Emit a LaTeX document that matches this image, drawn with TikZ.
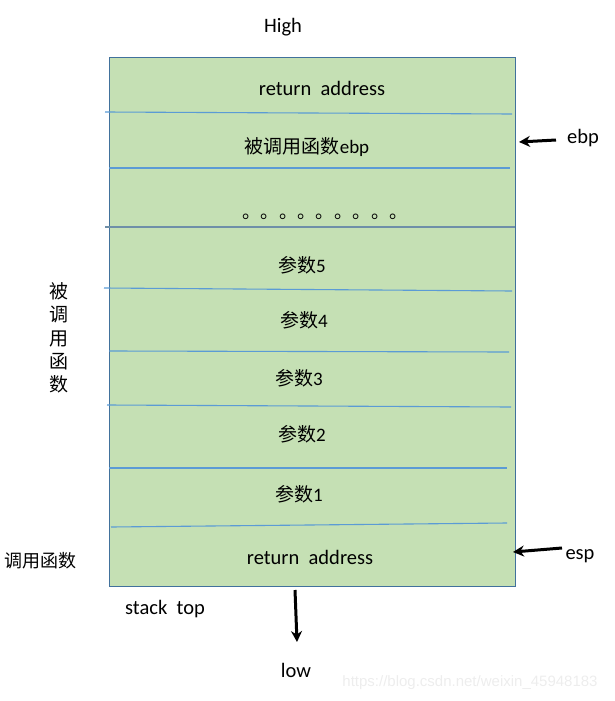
\documentclass[tikz,border=0pt]{standalone}
\usepackage{fontspec}
\setmainfont{Carlito}
\newfontfamily\cjk{Noto Sans CJK SC}
\newfontfamily\wm{Liberation Sans}
\usetikzlibrary{arrows.meta}
\definecolor{boxfill}{HTML}{C5E0B4}
\definecolor{boxedge}{HTML}{41719C}
\definecolor{sep}{HTML}{5B9BD5}
\definecolor{sepgray}{HTML}{6F8FA8}
\tikzset{
  lbl/.style={inner sep=0pt, font=\fontsize{20.5}{22}\selectfont},
  clbl/.style={inner sep=0pt, font=\fontsize{19}{21}\selectfont},
  sepline/.style={draw=sep, line width=1.1pt},
  ptr/.style={line width=3pt, -{Stealth[length=11pt,width=11pt]}},
}
\begin{document}
\begin{tikzpicture}[x=1pt,y=-1pt]
\useasboundingbox (0,0) rectangle (615,701);
% stack box
\node[draw=boxedge, fill=boxfill, line width=1pt, minimum width=406pt, minimum height=529pt, inner sep=0pt, anchor=north west] (stack) at (109,57) {};
% separators
\coordinate (s1a) at (105,112); \coordinate (s1b) at (512,114);
\coordinate (s2a) at (109,168); \coordinate (s2b) at (510,168);
\coordinate (s3a) at (105,227); \coordinate (s3b) at (515,227);
\coordinate (s4a) at (104,288); \coordinate (s4b) at (512,291);
\coordinate (s5a) at (109,351); \coordinate (s5b) at (509,352);
\coordinate (s6a) at (107,405); \coordinate (s6b) at (511,407);
\coordinate (s7a) at (109,468); \coordinate (s7b) at (507,468);
\coordinate (s8a) at (111,527); \coordinate (s8b) at (507,523);
\draw[sepline] (s1a) -- (s1b);
\draw[sepline] (s2a) -- (s2b);
\draw[draw=sepgray, line width=1.1pt] (s3a) -- (s3b);
\draw[sepline] (s4a) -- (s4b);
\draw[sepline] (s5a) -- (s5b);
\draw[sepline] (s6a) -- (s6b);
\draw[sepline] (s7a) -- (s7b);
\draw[sepline] (s8a) -- (s8b);
% cell texts
\node[lbl] (ra1) at (322,88) {return\ \ address};
\node[clbl] (callee) at (307,147) {{\cjk 被调用函数}ebp};
\node[inner sep=0pt, font=\fontsize{18.4}{20}\selectfont\cjk] (dots) at (325,217) {。。。。。。。。。};
\node[clbl] (p5) at (302,265) {{\cjk 参数}5};
\node[clbl] (p4) at (304,320) {{\cjk 参数}4};
\node[clbl] (p3) at (299,378) {{\cjk 参数}3};
\node[clbl] (p2) at (302,434) {{\cjk 参数}2};
\node[clbl] (p1) at (299,494) {{\cjk 参数}1};
\node[lbl] (ra2) at (310,557) {return\ \ address};
% outside labels
\node[lbl] (high) at (283,27) {High};
\node[lbl] (low) at (296,670) {low};
\node[lbl] (stop) at (165,609) {stack\ \ top};
\node[lbl] (ebp) at (583,138) {ebp};
\node[lbl] (esp) at (580,556) {esp};
\node[clbl, font=\fontsize{18}{20}\selectfont\cjk] (caller) at (41,561) {调用函数};
\node[clbl, font=\fontsize{19}{23.3}\selectfont\cjk, align=center] (calleev) at (59,338) {被\\调\\用\\函\\数};
\node[inner sep=0pt, font=\fontsize{15}{17}\selectfont\wm, text=black!7] (wmark) at (470,683) {https://blog.csdn.net/weixin\_45948183};
% arrows
\coordinate (ebpA) at (556,140); \coordinate (ebpB) at (519,142);
\coordinate (espA) at (562,548); \coordinate (espB) at (513,552);
\coordinate (lowA) at (295,590); \coordinate (lowB) at (297,642);
\draw[ptr] (ebpA) -- (ebpB);
\draw[ptr] (espA) -- (espB);
\draw[ptr] (lowA) -- (lowB);
\end{tikzpicture}
\end{document}
